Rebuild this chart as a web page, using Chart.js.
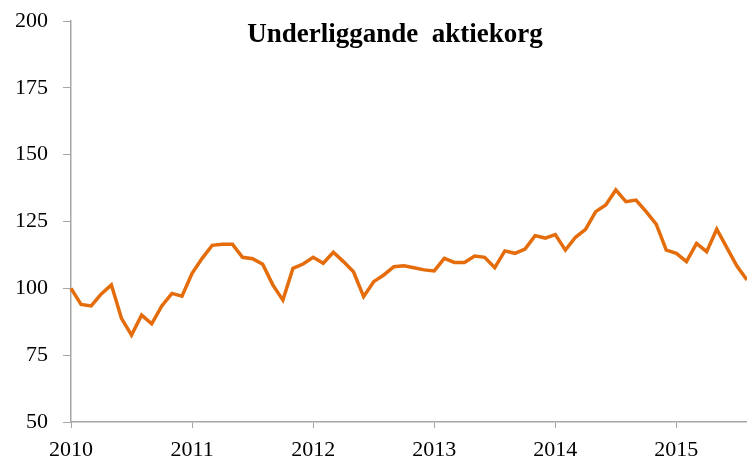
<!DOCTYPE html>
<html>
<head>
<meta charset="utf-8">
<script src="https://cdn.jsdelivr.net/npm/chart.js@4"></script>
<style>
  html, body { margin: 0; padding: 0; background: #fff; }
  #wrap { width: 747px; height: 457px; position: relative; }
</style>
</head>
<body>
<div id="wrap"><canvas id="basketChart"></canvas></div>
<script>
// Underliggande aktiekorg, monthly index jan 2010 - aug 2015
const chartTitle = "Underliggande  aktiekorg";
const startYear = 2010;
const yearLabels = ["2010", "2011", "2012", "2013", "2014", "2015"];
const yTicks = [50, 75, 100, 125, 150, 175, 200];

const indexValues = [
  100.0, 94.0, 93.4, 97.9, 101.3, 88.8, 82.5, 90.0, 86.7, 93.4, 98.1, 97.1,
  105.6, 111.2, 116.1, 116.5, 116.5, 111.6, 111.1, 109.0, 101.3, 95.6, 107.5, 109.1,
  111.6, 109.4, 113.5, 110.0, 106.2, 96.9, 102.5, 105.0, 108.1, 108.4, 107.7, 106.9,
  106.5, 111.2, 109.7, 109.7, 112.1, 111.6, 107.7, 114.0, 113.1, 114.7, 119.7, 118.8,
  120.1, 114.3, 119.1, 122.1, 128.7, 131.2, 136.8, 132.4, 133.0, 128.7, 124.0, 114.3,
  113.1, 110.0, 116.8, 113.7, 122.1, 115.2, 108.3, 103.1
];

// one label per month, e.g. "2010-01"
const months = indexValues.map((v, i) => {
  const y = startYear + Math.floor(i / 12);
  const m = (i % 12) + 1;
  return y + "-" + (m < 10 ? "0" + m : m);
});

const serif = '"Liberation Serif", "Times New Roman", serif';
const axisGray = "#a6a6a6";

// title sits inside the plot, like the original
const titlePlugin = {
  id: "insideTitle",
  afterDraw(chart) {
    const ctx = chart.ctx;
    ctx.save();
    ctx.font = "bold 27px " + serif;
    ctx.fillStyle = "#000";
    ctx.textAlign = "center";
    ctx.textBaseline = "alphabetic";
    ctx.fillText(chartTitle, 395, 42);
    ctx.restore();
  },
};

const ctx = document.getElementById("basketChart").getContext("2d");

const basketChart = new Chart(ctx, {
  type: "line",
  data: {
    labels: months,
    datasets: [
      {
        label: chartTitle,
        data: indexValues,
        borderColor: "#e46c0a",
        borderWidth: 3.5,
        pointRadius: 0,
        tension: 0,
        fill: false,
      },
    ],
  },
  options: {
    responsive: true,
    maintainAspectRatio: false,
    animation: false,
    layout: { padding: { top: 21, right: 0, left: 0, bottom: 0 } },
    plugins: {
      legend: { display: false },
      title: { display: false },
      tooltip: { enabled: false },
    },
    scales: {
      x: {
        type: "category",
        offset: false,
        afterBuildTicks: (scale) => {
          // only January gets a tick
          scale.ticks = scale.ticks.filter((t) => t.value % 12 === 0);
        },
        afterFit: (scale) => {
          scale.height = 35;
          scale.paddingLeft = 0;
          scale.paddingRight = 0;
        },
        grid: {
          drawOnChartArea: false,
          drawTicks: true,
          tickLength: 6,
          color: axisGray,
          offset: false,
        },
        border: { color: axisGray, width: 1.5 },
        ticks: {
          autoSkip: false,
          maxRotation: 0,
          padding: 9,
          color: "#000",
          font: { family: serif, size: 22 },
          callback: function (value) {
            return yearLabels[Math.floor(value / 12)];
          },
        },
      },
      y: {
        min: 50,
        max: 200,
        afterBuildTicks: (scale) => {
          scale.ticks = yTicks.map((v) => ({ value: v }));
        },
        afterFit: (scale) => {
          scale.width = 71;
          scale.paddingTop = 0;
          scale.paddingBottom = 0;
        },
        grid: {
          drawOnChartArea: false,
          drawTicks: true,
          tickLength: 8,
          color: axisGray,
        },
        border: { color: axisGray, width: 1.5 },
        ticks: {
          padding: 15,
          color: "#000",
          font: { family: serif, size: 22 },
        },
      },
    },
  },
  plugins: [titlePlugin],
});
</script>
</body>
</html>
